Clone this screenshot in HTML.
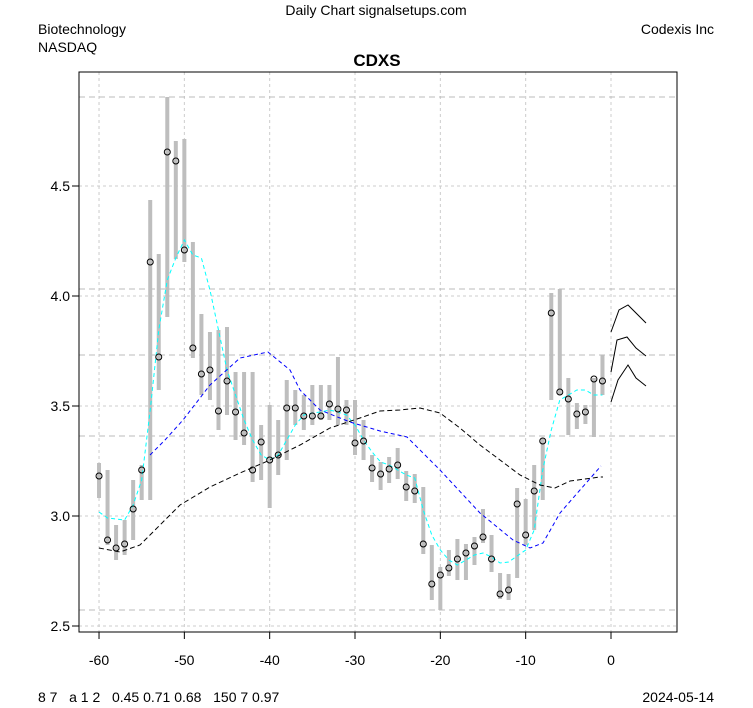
<!DOCTYPE html><html><head><meta charset="utf-8"><style>body{margin:0;background:#fff}svg{display:block;font-family:"Liberation Sans",sans-serif}</style></head><body>
<svg id="s" width="753" height="708" viewBox="0 0 753 708" xmlns="http://www.w3.org/2000/svg">
<rect width="753" height="708" fill="#fff"/>
<text x="376" y="15" font-size="14" text-anchor="middle">Daily Chart signalsetups.com</text>
<text x="38" y="34" font-size="14">Biotechnology</text>
<text x="38" y="52" font-size="14">NASDAQ</text>
<text x="714" y="34" font-size="14" text-anchor="end">Codexis Inc</text>
<text x="377" y="66" font-size="17" font-weight="bold" text-anchor="middle">CDXS</text>
<text x="38" y="702" font-size="14" style="white-space:pre">8 7   a 1 2   0.45 0.71 0.68   150 7 0.97</text>
<text x="714" y="702" font-size="14" text-anchor="end">2024-05-14</text>
<g id="g"></g>
<rect x="79" y="72" width="598" height="560" fill="none" stroke="#000" stroke-width="1"/>
</svg>
<script>
var g=document.getElementById('g'),NS='http://www.w3.org/2000/svg';
function el(t,a){var e=document.createElementNS(NS,t);for(var k in a)e.setAttribute(k,a[k]);g.appendChild(e);return e;}
function X(d){return 611+d*8.533;}
[-60,-50,-40,-30,-20,-10,0].forEach(function(d){el('line',{x1:X(d),x2:X(d),y1:72,y2:632,stroke:'#ccc','stroke-dasharray':'3,3'});
 el('line',{x1:X(d),x2:X(d),y1:632,y2:639,stroke:'#000'});
 var t=el('text',{x:X(d),y:665,'font-size':14,'text-anchor':'middle'});t.textContent=d;});
[[2.5,626],[3.0,516],[3.5,406],[4.0,296],[4.5,186]].forEach(function(p){el('line',{x1:79,x2:677,y1:p[1],y2:p[1],stroke:'#ccc','stroke-dasharray':'3,3'});
 el('line',{x1:72,x2:79,y1:p[1],y2:p[1],stroke:'#000'});
 var t=el('text',{x:70,y:p[1]+5,'font-size':14,'text-anchor':'end'});t.textContent=p[0].toFixed(1);});
[97,289,355,436,610].forEach(function(y){el('line',{x1:79,x2:677,y1:y,y2:y,stroke:'#bbb','stroke-dasharray':'6,4'});});
var b=[[-60,476,463,498],[-59,540,470,545],[-58,548,525,560],[-57,544,520,555],[-56,509,480,540],[-55,470,465,500],[-54,262,200,500],[-53,357,254,390],[-52,152,97,317],[-51,161,141,259],[-50,250,139,262],[-49,348,242,358],[-48,374,314,395],[-47,370,332,400],[-46,411,330,430],[-45,381,327,415],[-44,412,372,440],[-43,433,372,445],[-42,470,372,482],[-41,442,425,480],[-40,460,405,508],[-39,455,420,475],[-38,408,380,460],[-37,408,390,425],[-36,416,395,430],[-35,416,385,425],[-34,416,385,420],[-33,404,385,420],[-32,409,357,425],[-31,410,400,425],[-30,443,400,455],[-29,441,420,460],[-28,468,455,482],[-27,474,462,490],[-26,469,457,483],[-25,465,448,479],[-24,487,471,501],[-23,491,474,503],[-22,544,487,554],[-21,584,545,600],[-20,575,567,610],[-19,568,550,576],[-18,559,539,580],[-17,553,544,580],[-16,546,537,565],[-15,537,509,543],[-14,559,535,572],[-13,594,573,599],[-12,590,574,600],[-11,504,488,578],[-10,535,499,545],[-9,491,465,530],[-8,441,438,500],[-7,313,293,400],[-6,392,289,395],[-5,399,378,435],[-4,414,403,429],[-3,412,405,424],[-2,379,378,437],[-1,381,355,395]];
b.forEach(function(r){el('line',{x1:X(r[0]),x2:X(r[0]),y1:r[2],y2:r[3],stroke:'#bebebe','stroke-width':4});});
function pl(pts,c,da,w){el('polyline',{points:pts.map(function(p){return p.join(',')}).join(' '),fill:'none',stroke:c,'stroke-width':w||1,'stroke-dasharray':da||'none'});}
var cy=[[-60,512],[-59,518],[-57,520],[-56,505],[-55,480],[-54,410],[-53,330],[-52,280],[-51,258],[-50,240],[-49,255],[-48,258],[-47,290],[-46,330],[-45,370],[-44,395],[-43,420],[-42,440],[-41,455],[-40,460],[-39,455],[-38,440],[-37,425],[-36,415],[-35,413],[-34,412],[-33,410],[-32,412],[-31,415],[-30,425],[-29,440],[-28,452],[-27,462],[-26,465],[-25,470],[-24,475],[-23,478],[-22,510],[-21,535],[-20,550],[-19,560],[-18,565],[-17,560],[-16,555],[-15,553],[-14,557],[-13,563],[-12,562],[-11,556],[-10,550],[-9,530],[-8,470],[-7,430],[-6,400],[-5,395],[-4,390],[-3,390],[-2,395],[-1,395]].map(function(p){return [X(p[0]),p[1]];});
pl(cy,'#00ffff','4,3');
pl([[150,455],[165,440],[183,420],[210,385],[240,358],[268,352],[290,370],[300,390],[320,410],[350,422],[380,431],[407,437],[440,470],[480,513],[513,540],[530,548],[543,543],[560,513],[580,490],[601,466]],'#0000ff','4,3');
pl([[99,548],[120,552],[140,545],[160,525],[180,505],[210,487],[240,473],[270,460],[300,445],[330,428],[360,418],[380,411],[400,410],[420,408],[440,413],[460,428],[480,445],[500,460],[520,475],[540,485],[555,488],[570,481],[600,477],[603,477]],'#000','5,3');
b.forEach(function(r){el('circle',{cx:X(r[0]),cy:r[1],r:3,fill:'none',stroke:'#000','stroke-width':1});});
pl([[611,332],[619,310],[628,305],[646,323]],'#000');
pl([[611,372],[617,340],[627,337],[636,348],[646,356]],'#000');
pl([[611,402],[618,380],[628,365],[636,378],[646,386]],'#000');
</script>
</body></html>
